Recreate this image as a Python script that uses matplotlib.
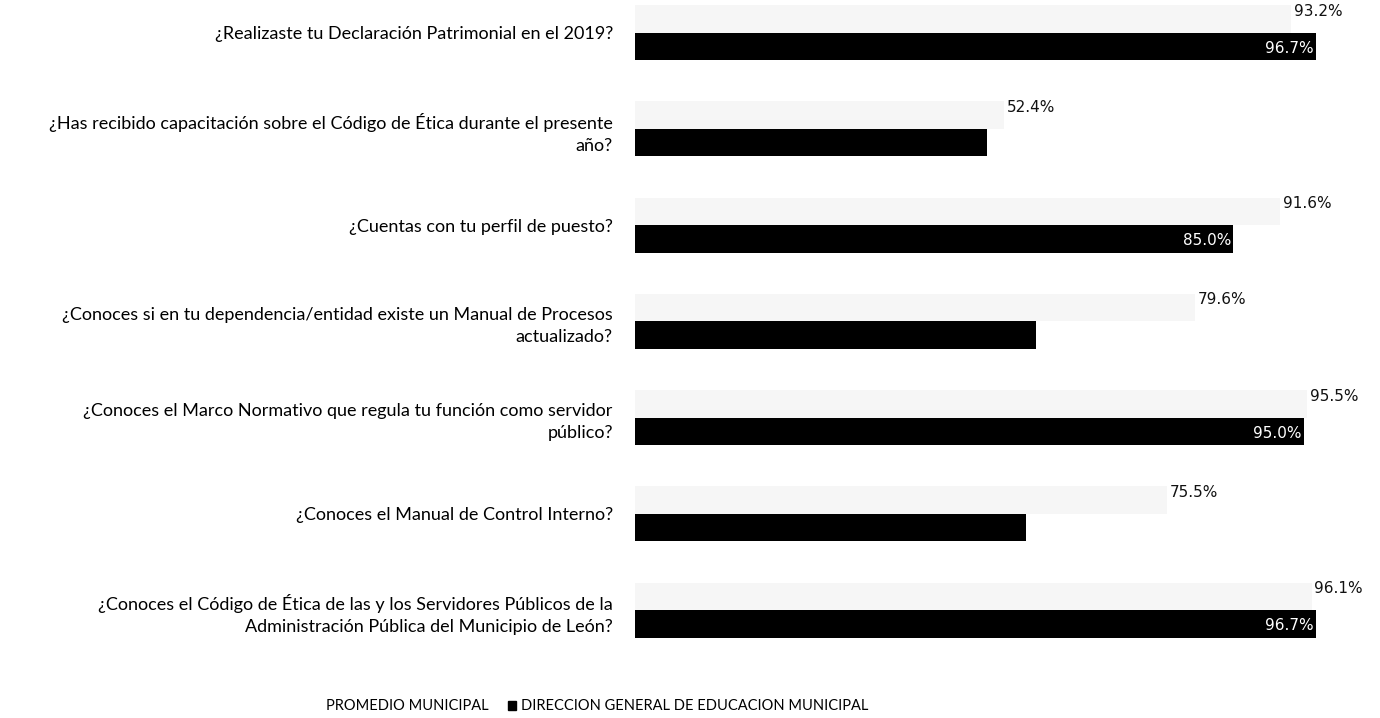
import matplotlib
matplotlib.use("Agg")
import matplotlib.pyplot as plt
import matplotlib.patches as mpatches
import numpy as np

# Data
preguntas = [
    "¿Realizaste tu Declaración Patrimonial en el 2019?",
    "¿Has recibido capacitación sobre el Código de Ética durante el presente\naño?",
    "¿Cuentas con tu perfil de puesto?",
    "¿Conoces si en tu dependencia/entidad existe un Manual de Procesos\nactualizado?",
    "¿Conoces el Marco Normativo que regula tu función como servidor\npúblico?",
    "¿Conoces el Manual de Control Interno?",
    "¿Conoces el Código de Ética de las y los Servidores Públicos de la\nAdministración Pública del Municipio de León?",
]
promedio = [93.2, 52.4, 91.6, 79.6, 95.5, 75.5, 96.1]
direccion = [96.7, 50.0, 85.0, 57.0, 95.0, 55.5, 96.7]
# the scan only shows the white labels on the long black bars
mostrar_dir = [True, False, True, False, True, False, True]

SERIE_1 = "PROMEDIO MUNICIPAL"
SERIE_2 = "DIRECCION GENERAL DE EDUCACION MUNICIPAL"

COLOR_PROM = "#f6f6f6"
COLOR_DIR = "#000000"
LABEL_FONT = ["Lato", "DejaVu Sans"]

fig = plt.figure(figsize=(13.8, 7.18), dpi=100)
ax = fig.add_axes([635 / 1380, 1 - 663 / 718, 1 - 635 / 1380, 663 / 718])

n = len(preguntas)
y = np.arange(n)
h = 0.286

ax.barh(y - h / 2, promedio, height=h, color=COLOR_PROM)
ax.barh(y + h / 2, direccion, height=h, color=COLOR_DIR)

for i in range(n):
    ax.text(promedio[i] + 0.4, y[i] - h / 2 - 0.08, f"{promedio[i]:.1f}%",
            ha="left", va="center", fontsize=11, color="#111111")
    if mostrar_dir[i]:
        ax.text(direccion[i] - 0.3, y[i] + h / 2 + 0.02, f"{direccion[i]:.1f}%",
                ha="right", va="center", fontsize=11, color="white")

ax.set_xlim(0, (1380 - 635) / 7.04)
ax.set_ylim(6.55, -0.34)
ax.set_yticks(y)
ax.set_yticklabels(preguntas, fontsize=13, family=LABEL_FONT, ha="right",
                   linespacing=1.45)
ax.tick_params(axis="y", length=0, pad=16)
ax.set_xticks([])
for s in ax.spines.values():
    s.set_visible(False)

handles = [mpatches.Patch(color="white", label=SERIE_1),
           mpatches.Patch(color=COLOR_DIR, label=SERIE_2)]
fig.legend(handles=handles, loc="lower center", ncol=2, frameon=False,
           bbox_to_anchor=(0.428, -0.012), prop={"family": LABEL_FONT, "size": 10.5},
           handlelength=0.6, handleheight=0.6, handletextpad=0.3, columnspacing=1.3)

fig.savefig("out.png", dpi=100, facecolor="white")
